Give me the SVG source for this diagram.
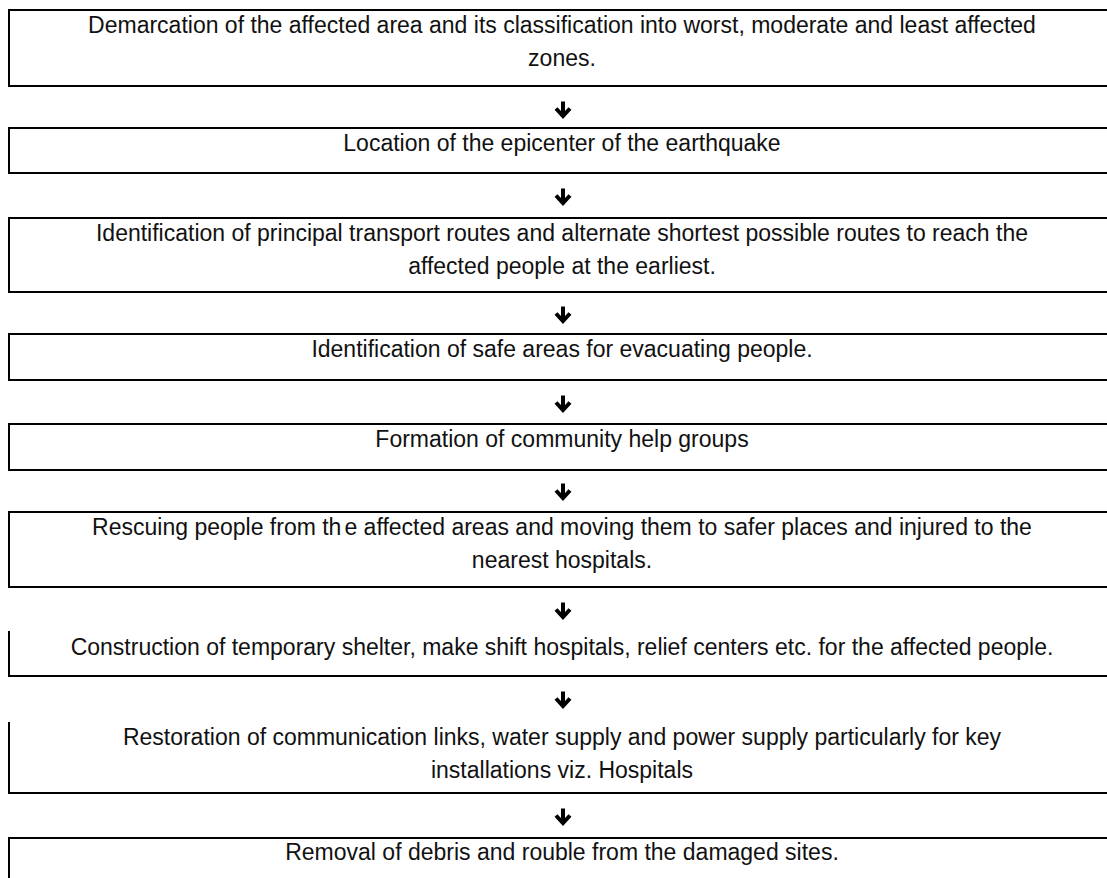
<svg xmlns="http://www.w3.org/2000/svg" xmlns:xlink="http://www.w3.org/1999/xlink" width="1107" height="878" viewBox="0 0 1107 878">
  <style>
    .box { fill: none; stroke: #000; stroke-width: 2; }
    .lbl { font-family: "Liberation Sans", Arial, sans-serif; font-size: 23px; fill: #111; text-anchor: middle; }
    .arr { fill: none; stroke: #000; stroke-width: 4; stroke-linejoin: miter; stroke-linecap: butt; }
  </style>
  <defs>
    <g id="arrow">
      <path class="arr" d="M0,-8.5 V6"/>
      <path class="arr" d="M-7,-1.5 L0,6 L7,-1.5"/>
    </g>
  </defs>
  <rect width="1107" height="878" fill="#fff"/>

  <g id="n1">
    <rect class="box" x="9" y="10" width="1110" height="76"/>
    <text class="lbl" x="562" y="33">Demarcation of the affected area and its classification into worst, moderate and least affected</text>
    <text class="lbl" x="562" y="66">zones.</text>
  </g>
  <g id="n2">
    <rect class="box" x="9" y="128" width="1110" height="45"/>
    <text class="lbl" x="562" y="151">Location of the epicenter of the earthquake</text>
  </g>
  <g id="n3">
    <rect class="box" x="9" y="218" width="1110" height="74"/>
    <text class="lbl" x="562" y="241">Identification of principal transport routes and alternate shortest possible routes to reach the</text>
    <text class="lbl" x="562" y="274">affected people at the earliest.</text>
  </g>
  <g id="n4">
    <rect class="box" x="9" y="334" width="1110" height="46"/>
    <text class="lbl" x="562" y="357">Identification of safe areas for evacuating people.</text>
  </g>
  <g id="n5">
    <rect class="box" x="9" y="424" width="1110" height="46"/>
    <text class="lbl" x="562" y="447">Formation of community help groups</text>
  </g>
  <g id="n6">
    <rect class="box" x="9" y="512" width="1110" height="75"/>
    <text class="lbl" x="562" y="535">Rescuing people from th<tspan dx="3">e</tspan> affected areas and moving them to safer places and injured to the</text>
    <text class="lbl" x="562" y="568">nearest hospitals.</text>
  </g>
  <g id="n7">
    <path class="box" d="M9,631 V676 H1110"/>
    <text class="lbl" x="562" y="655">Construction of temporary shelter, make shift hospitals, relief centers etc. for the affected people.</text>
  </g>
  <g id="n8">
    <path class="box" d="M9,722 V793 H1110"/>
    <text class="lbl" x="562" y="745">Restoration of communication links, water supply and power supply particularly for key</text>
    <text class="lbl" x="562" y="778">installations viz. Hospitals</text>
  </g>
  <g id="n9">
    <rect class="box" x="9" y="838" width="1110" height="60"/>
    <text class="lbl" x="562" y="860">Removal of debris and rouble from the damaged sites.</text>
  </g>

  <g id="connectors">
    <use xlink:href="#arrow" x="563" y="110"/>
    <use xlink:href="#arrow" x="563" y="197"/>
    <use xlink:href="#arrow" x="563" y="315"/>
    <use xlink:href="#arrow" x="563" y="404"/>
    <use xlink:href="#arrow" x="563" y="492"/>
    <use xlink:href="#arrow" x="563" y="611"/>
    <use xlink:href="#arrow" x="563" y="700"/>
    <use xlink:href="#arrow" x="563" y="817"/>
  </g>
</svg>
